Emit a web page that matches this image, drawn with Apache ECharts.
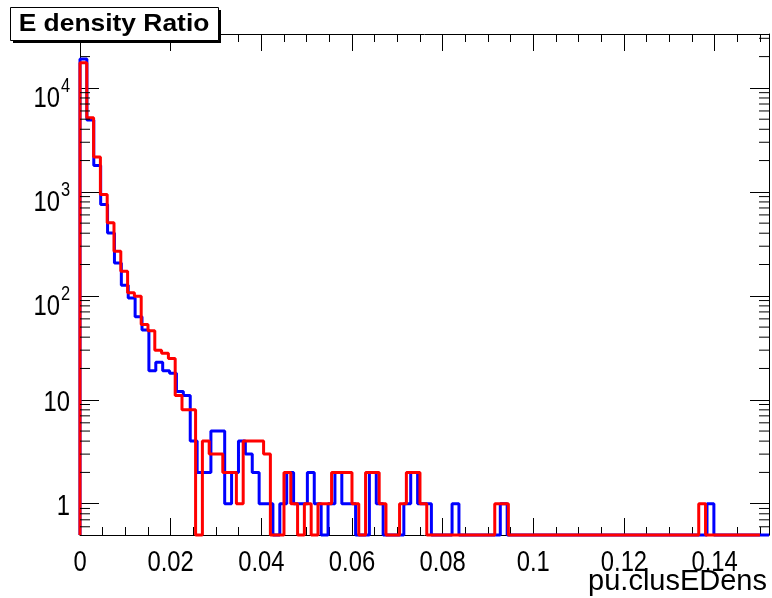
<!DOCTYPE html>
<html><head><meta charset="utf-8">
<script src="https://cdn.jsdelivr.net/npm/echarts@6/dist/echarts.min.js"></script>
<style>html,body{margin:0;padding:0;background:#fff}#c{width:772px;height:598px}</style>
</head><body><div id="c"></div>
<script>
// ---- axis ranges & tick labels ----
const xMin = 0, xMax = 0.152, xStep = 0.02;
const yMin = 0.5, yMax = 33000;
const xTickLabels = ['0', '0.02', '0.04', '0.06', '0.08', '0.1', '0.12', '0.14'];
const yTickValues = [1, 10, 100, 1000, 10000];
const yTickBase = ['1', '10', '10', '10', '10'];
const yTickExp = ['', '', '2', '3', '4'];
const titleText = 'E density Ratio';
const xTitle = 'pu.clusEDens';

// ---- histograms: range [lo, hi], 100 bins each ----
const blueRange = [0, 0.152];
const redRange = [0, 0.150];
const blueCounts = [
  19000, 4900, 1790, 755, 403, 207, 126, 95, 63, 47,
  19, 23, 19, 18, 12, 11, 4, 2, 2, 5,
  5, 1, 2, 4, 3, 2, 1, 1, 0, 1,
  2, 1, 1, 2, 1, 0, 1, 2, 1, 1,
  0, 0, 2, 1, 0, 0, 0, 1, 2, 1,
  1, 0, 0, 0, 1, 0, 0, 0, 0, 0,
  0, 1, 0, 0, 0, 0, 0, 0, 0, 0,
  0, 0, 0, 0, 0, 0, 0, 0, 0, 0,
  0, 0, 0, 0, 0, 0, 0, 0, 0, 0,
  0, 1, 0, 0, 0, 0, 0, 0, 0, 0
];
const redCounts = [
  17500, 5150, 2170, 942, 503, 268, 172, 107, 99, 53,
  46, 30, 28, 25, 11, 8, 8, 0, 4, 3,
  3, 2, 2, 1, 4, 4, 4, 3, 0, 0,
  2, 1, 0, 1, 0, 1, 1, 2, 2, 2,
  1, 0, 2, 2, 1, 0, 0, 1, 2, 2,
  1, 0, 0, 0, 0, 0, 0, 0, 0, 0,
  0, 1, 1, 0, 0, 0, 0, 0, 0, 0,
  0, 0, 0, 0, 0, 0, 0, 0, 0, 0,
  0, 0, 0, 0, 0, 0, 0, 0, 0, 0,
  0, 1, 0, 0, 0, 0, 0, 0, 0, 0
];

// build step outline (empty bins drawn at the frame bottom, as on a log pad)
function outline(range, counts) {
  const n = counts.length, w = (range[1] - range[0]) / n;
  const clamp = v => (v > yMin ? v : yMin);
  const pts = [[range[0], yMin]];
  for (let i = 0; i < n; i++) pts.push([range[0] + i * w, clamp(counts[i])]);
  pts.push([range[1], clamp(counts[n - 1])]);
  pts.push([range[1], yMin]);
  return pts;
}

const yMinor = [];
for (let d = -1; d <= 4; d++) for (let k = 2; k <= 9; k++) {
  const v = k * Math.pow(10, d);
  if (v > yMin && v < yMax) yMinor.push([xMin, v]);
}

const FONT = '"Liberation Sans", Arial, Helvetica, sans-serif';
const LBL = 29, SUP = 20, SQ = 0.82;   // label font sizes and horizontal squeeze
const chart = echarts.init(document.getElementById('c'), null, {renderer: 'canvas'});

const xAxisCommon = {
  type: 'value', min: xMin, max: xMax, interval: xStep,
  axisLine: {show: true, onZero: false, lineStyle: {color: '#000', width: 1}},
  axisTick: {show: true, inside: true, length: 17, lineStyle: {color: '#000', width: 1}},
  minorTick: {show: true, splitNumber: 4, length: 8, lineStyle: {color: '#000', width: 1}},
  splitLine: {show: false}, minorSplitLine: {show: false}, axisLabel: {show: false}
};
const yAxisCommon = {
  type: 'log', logBase: 10, min: yMin, max: yMax,
  axisLine: {show: true, onZero: false, lineStyle: {color: '#000', width: 1}},
  axisTick: {show: true, inside: true, length: 19, lineStyle: {color: '#000', width: 1}},
  minorTick: {show: false}, splitLine: {show: false}, minorSplitLine: {show: false}, axisLabel: {show: false}
};

const txt = (text, x, y, size, align) => ({
  type: 'text', x: x, y: y, scaleX: SQ,
  style: {text: text, fontFamily: FONT, fontSize: size, fill: '#000', align: align, verticalAlign: 'middle'}
});

chart.setOption({
  animation: false,
  backgroundColor: '#fff',
  grid: {left: 80, right: 3, top: 34, bottom: 63, containLabel: false},
  xAxis: [
    Object.assign({}, xAxisCommon, {position: 'bottom'}),
    Object.assign({}, xAxisCommon, {position: 'top'})
  ],
  yAxis: [
    Object.assign({}, yAxisCommon, {position: 'left'}),
    Object.assign({}, yAxisCommon, {position: 'right'})
  ],
  series: [
    {
      type: 'line', name: 'blue', xAxisIndex: 0, yAxisIndex: 0,
      data: outline(blueRange, blueCounts), step: 'end', showSymbol: false, symbol: 'none',
      clip: false, lineStyle: {color: '#0000ff', width: 3}, z: 3
    },
    {
      type: 'line', name: 'red', xAxisIndex: 0, yAxisIndex: 0,
      data: outline(redRange, redCounts), step: 'end', showSymbol: false, symbol: 'none',
      clip: false, lineStyle: {color: '#ff0000', width: 3}, z: 4
    },
    {
      type: 'custom', name: 'yMinorTicks', xAxisIndex: 0, yAxisIndex: 0, silent: true, clip: false, z: 5,
      data: yMinor,
      renderItem: (params, api) => {
        const v = api.value(1);
        const pl = api.coord([xMin, v]);
        const pr = api.coord([xMax, v]);
        const st = {stroke: '#000', lineWidth: 1};
        return {type: 'group', children: [
          {type: 'line', shape: {x1: pl[0], y1: pl[1], x2: pl[0] + 10, y2: pl[1]}, style: st},
          {type: 'line', shape: {x1: pr[0] - 10, y1: pr[1], x2: pr[0], y2: pr[1]}, style: st}
        ]};
      }
    },
    {
      type: 'custom', name: 'xLabels', xAxisIndex: 0, yAxisIndex: 0, silent: true, clip: false, z: 6,
      data: xTickLabels.map((t, i) => [i * xStep, yMin]),
      renderItem: (params, api) => {
        const p = api.coord([api.value(0), api.value(1)]);
        return txt(xTickLabels[params.dataIndex], p[0], p[1] + 28, LBL, 'center');
      }
    },
    {
      type: 'custom', name: 'yLabels', xAxisIndex: 0, yAxisIndex: 0, silent: true, clip: false, z: 6,
      data: yTickValues.map(v => [xMin, v]),
      renderItem: (params, api) => {
        const i = params.dataIndex;
        const p = api.coord([xMin, api.value(1)]);
        if (!yTickExp[i]) return txt(yTickBase[i], p[0] - 10, p[1] + 3.5, LBL, 'right');
        return {type: 'group', children: [
          txt(yTickBase[i], p[0] - 20, p[1] + 11.5, LBL, 'right'),
          txt(yTickExp[i], p[0] - 19, p[1] - 1, SUP, 'left')
        ]};
      }
    }
  ],
  graphic: [
    {type: 'rect', left: 13, top: 10, shape: {width: 208, height: 33}, style: {fill: '#000'}, z: 10},
    {type: 'rect', left: 10, top: 7, shape: {width: 208, height: 33}, style: {fill: '#fff', stroke: '#000', lineWidth: 1}, z: 11},
    {type: 'text', x: 114, y: 24, scaleX: 1.1, z: 12,
      style: {text: titleText, fontFamily: FONT, fontWeight: 'bold', fontSize: 24, fill: '#000', align: 'center', verticalAlign: 'middle'}},
    {type: 'text', x: 767, y: 582, z: 12,
      style: {text: xTitle, fontFamily: FONT, fontSize: 29, fill: '#000', align: 'right', verticalAlign: 'middle'}}
  ]
});
</script></body></html>
